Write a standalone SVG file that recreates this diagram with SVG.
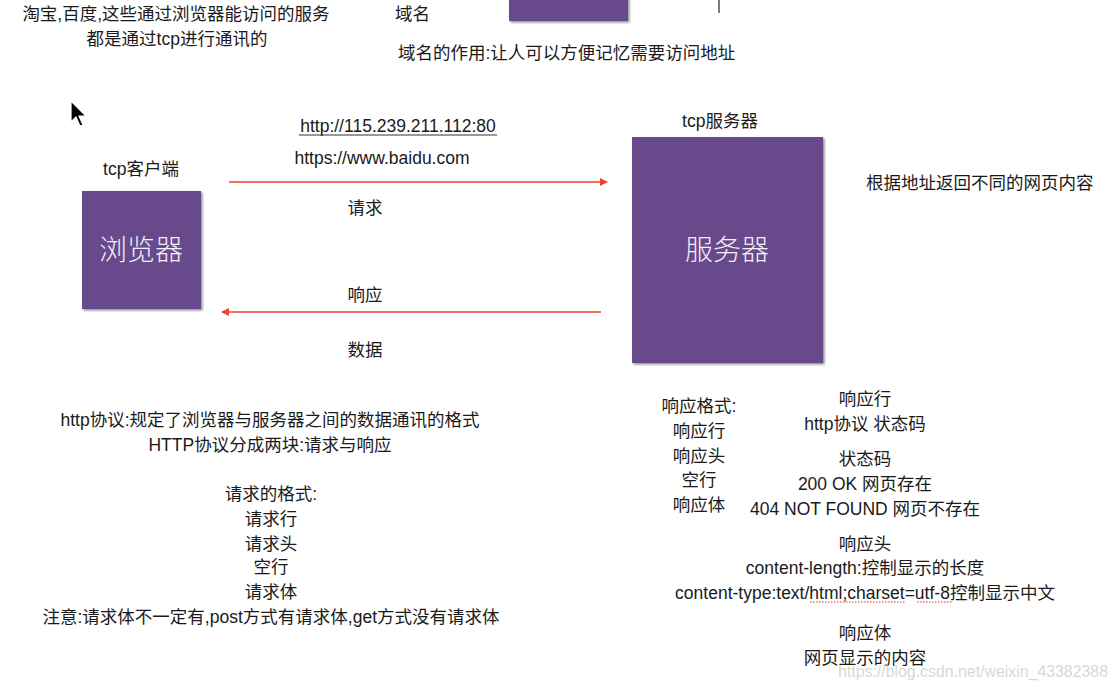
<svg xmlns="http://www.w3.org/2000/svg" width="1117" height="690" viewBox="0 0 1117 690">
<style>
text{font-family:"Liberation Sans","Noto Sans CJK SC",sans-serif;font-size:17.5px;fill:#1a1a1a}
.c{text-anchor:middle}
.box{fill:#684a8b;filter:url(#sh)}
.big{font-size:28px;fill:#f2eef6;font-family:"Noto Sans CJK SC",sans-serif;font-weight:300}
.arrow{stroke:#f0402a;stroke-width:1.6;fill:none}
.wm{fill:#d8d8d8;font-size:17px}
</style>
<defs>
<filter id="sh" x="-10%" y="-10%" width="130%" height="130%">
<feDropShadow dx="1.5" dy="1.5" stdDeviation="1.2" flood-color="#000" flood-opacity="0.45"/>
</filter>
<marker id="ah" viewBox="0 0 10 10" refX="9" refY="5" markerWidth="8" markerHeight="8" markerUnits="userSpaceOnUse" orient="auto">
<path d="M0,0 L10,5 L0,10 Z" fill="#f0402a"/>
</marker>
</defs>
<rect width="1117" height="690" fill="#ffffff"/>

<g id="top-notes">
<text class="c" x="176" y="20">淘宝,百度,这些通过浏览器能访问的服务</text>
<text class="c" x="177" y="45">都是通过tcp进行通讯的</text>
<text x="395" y="20">域名</text>
<text x="398" y="59">域名的作用:让人可以方便记忆需要访问地址</text>
</g>

<g id="domain-box">
<rect class="box" x="509" y="-5" width="119" height="26"/>
</g>
<line x1="719" y1="0" x2="719" y2="13" stroke="#222" stroke-width="1.2"/>

<g id="cursor">
<path d="M71,101 L71,122 L76,117 L80,126 L83,125 L79,116 L86,116 Z" fill="#000" stroke="#fff" stroke-width="1.2"/>
</g>

<g id="client">
<text class="c" x="141" y="175">tcp客户端</text>
<rect class="box" x="82" y="191" width="119" height="118"/>
<text class="c big" x="141" y="260">浏览器</text>
</g>

<g id="server">
<text class="c" x="720" y="127">tcp服务器</text>
<rect class="box" x="632" y="137" width="191" height="226"/>
<text class="c big" x="727" y="260">服务器</text>
<text x="866" y="189">根据地址返回不同的网页内容</text>
</g>

<g id="connectors">
<line class="arrow" x1="229" y1="182" x2="607" y2="182" marker-end="url(#ah)"/>
<line class="arrow" x1="601" y1="312" x2="222" y2="312" marker-end="url(#ah)"/>
</g>

<g id="connector-labels">
<text class="c" x="398" y="132">http://115.239.211.112:80</text>
<line x1="299" y1="135" x2="497" y2="135" stroke="#333" stroke-width="1"/>
<text class="c" x="382" y="164">https://www.baidu.com</text>
<text class="c" x="365" y="214">请求</text>
<text class="c" x="365" y="301">响应</text>
<text class="c" x="365" y="356">数据</text>
</g>

<g id="request-notes">
<text class="c" x="270" y="426">http协议:规定了浏览器与服务器之间的数据通讯的格式</text>
<text class="c" x="270" y="451">HTTP协议分成两块:请求与响应</text>
<text class="c" x="271" y="500">请求的格式:</text>
<text class="c" x="271" y="525">请求行</text>
<text class="c" x="271" y="550">请求头</text>
<text class="c" x="271" y="573">空行</text>
<text class="c" x="271" y="598">请求体</text>
<text class="c" x="271" y="623">注意:请求体不一定有,post方式有请求体,get方式没有请求体</text>
</g>

<g id="response-format">
<text class="c" x="699" y="412">响应格式:</text>
<text class="c" x="699" y="437">响应行</text>
<text class="c" x="699" y="462">响应头</text>
<text class="c" x="699" y="486">空行</text>
<text class="c" x="699" y="511">响应体</text>
</g>

<g id="response-details">
<text class="c" x="865" y="405">响应行</text>
<text class="c" x="865" y="430">http协议 状态码</text>
<text class="c" x="865" y="465">状态码</text>
<text class="c" x="865" y="490">200 OK 网页存在</text>
<text class="c" x="865" y="515">404 NOT FOUND 网页不存在</text>
<text class="c" x="865" y="550">响应头</text>
<text class="c" x="865" y="574">content-length:控制显示的长度</text>
<text class="c" x="865" y="599">content-type:text/html;charset=utf-8控制显示中文</text>
<line x1="810" y1="602" x2="906" y2="602" stroke="#e03030" stroke-width="1.2" stroke-dasharray="1.5,1.5"/>
<line x1="917" y1="602" x2="953" y2="602" stroke="#e03030" stroke-width="1.2" stroke-dasharray="1.5,1.5"/>
<text class="c" x="865" y="639">响应体</text>
<text class="c" x="865" y="664">网页显示的内容</text>
</g>

<text class="wm" x="838" y="677" textLength="270" lengthAdjust="spacingAndGlyphs">https://blog.csdn.net/weixin_43382388</text>
</svg>
